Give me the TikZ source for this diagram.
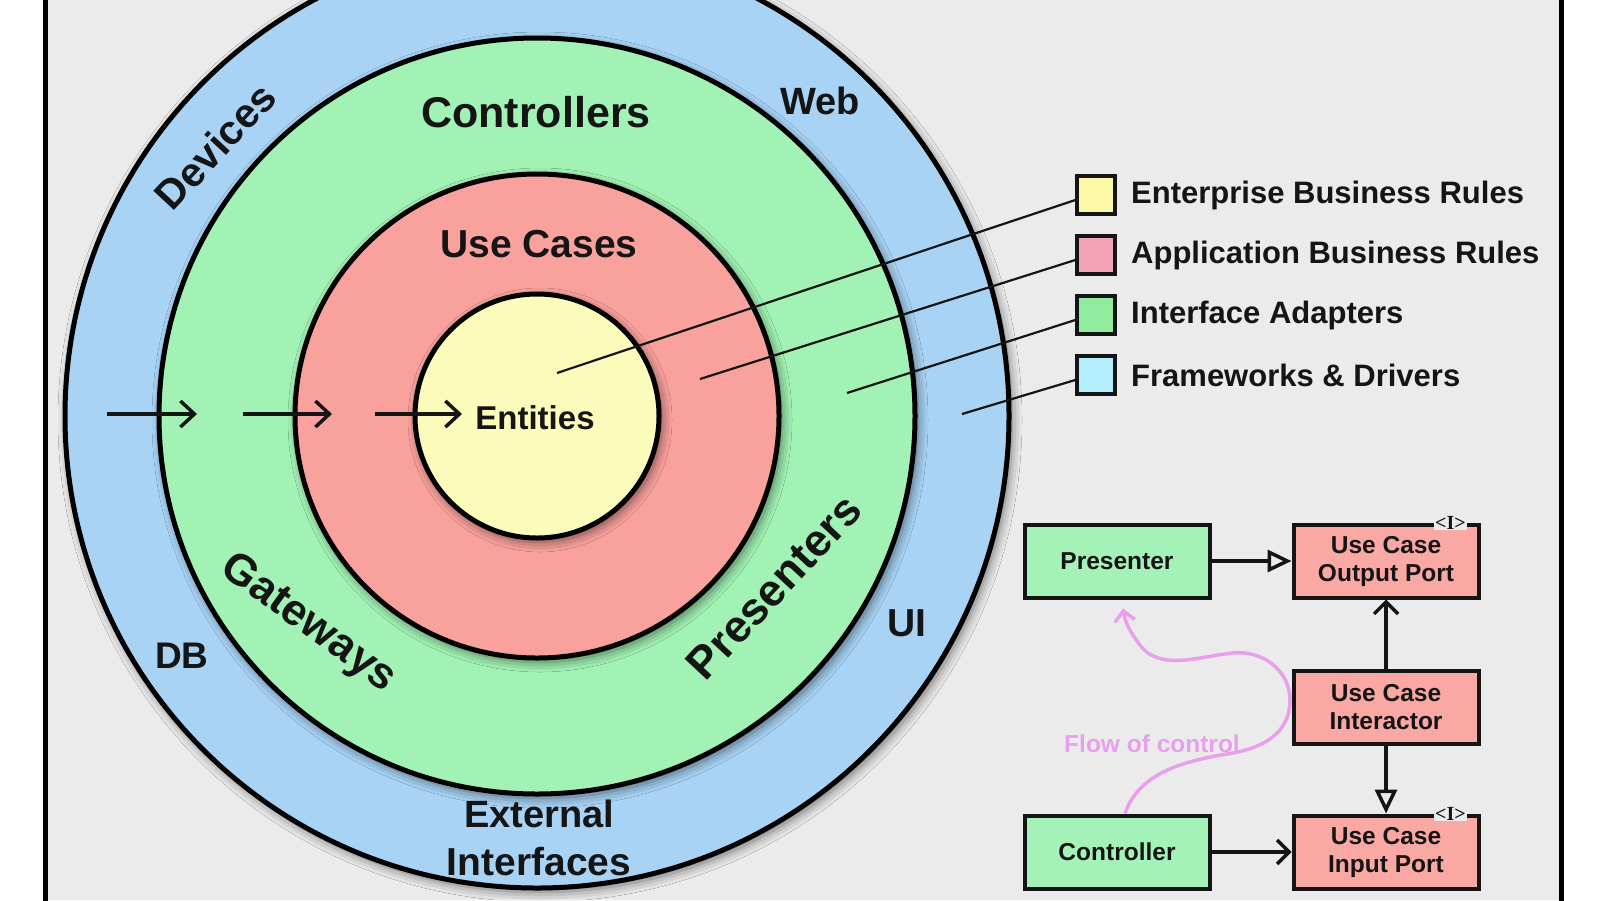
\documentclass[tikz,border=0pt]{standalone}
\usepackage{fontspec}
\setmainfont{Liberation Sans}
\newfontfamily\serifbf{Liberation Serif}
\usetikzlibrary{arrows.meta,shadows.blur,calc}
\definecolor{bggray}{HTML}{EBEBEB}
\definecolor{ringblue}{HTML}{A9D3F5}
\definecolor{ringgreen}{HTML}{A2F2B5}
\definecolor{ringred}{HTML}{F9A19C}
\definecolor{ringyellow}{HTML}{FBFBBC}
\definecolor{lgyellow}{HTML}{FBF9A8}
\definecolor{lgpink}{HTML}{F4A3B7}
\definecolor{lggreen}{HTML}{8FEC9E}
\definecolor{lgcyan}{HTML}{B2EEFB}
\definecolor{boxgreen}{HTML}{A5F2B9}
\definecolor{boxred}{HTML}{F9A8A4}
\definecolor{flowpink}{HTML}{E8A0EC}
\definecolor{ink}{HTML}{151515}
\newcommand{\fsz}[2]{\fontsize{#1}{#2}\selectfont\bfseries}
\begin{document}
\begin{tikzpicture}[x=1pt,y=-1pt,
  ring/.style={draw=black, line width=5pt},
  ringshadow/.style={blur shadow={shadow xshift=3pt, shadow yshift=-4pt, shadow blur radius=10pt, shadow opacity=55}},
  lbl/.style={text=ink, inner sep=0pt},
  lgbox/.style={draw=ink, line width=3.5pt, minimum width=38pt, minimum height=38pt, inner sep=0pt},
  lgtext/.style={text=ink, anchor=west, inner sep=0pt, font=\fsz{31}{34}},
  leader/.style={draw=ink, line width=2.2pt},
  inarrow/.style={draw=ink, line width=3.5pt, -{Straight Barb[length=14pt, width=26pt]}},
  umlbox/.style={draw=ink, line width=4pt, minimum width=185pt, minimum height=73pt, inner sep=0pt, align=center, text=ink, font=\fsz{24.5}{28}},
  barb/.style={draw=ink, line width=3.5pt, -{Straight Barb[length=12pt, width=24pt]}},
  tri/.style={draw=ink, line width=3.5pt, -{Triangle[open, length=24pt, width=22pt, line width=3.5pt]}},
  imark/.style={fill=bggray, inner sep=1pt, text=ink, font=\serifbf\fontsize{20}{20}\selectfont\bfseries}
]
\useasboundingbox (0,0) rectangle (1600,900);
\fill[white] (0,0) rectangle (1600,900);
\fill[bggray] (45,0) rectangle (1561,900);
\draw[line width=5pt, black] (45,-10) -- (45,910);
\draw[line width=5pt, black] (1561,-10) -- (1561,910);

% concentric rings
\coordinate (c) at (537,416);
\path[fill=ringblue, ringshadow] (c) circle[radius=472pt];
\draw[ring] (c) circle[radius=472pt];
\path[fill=ringgreen, ringshadow] (c) circle[radius=378pt];
\draw[ring] (c) circle[radius=378pt];
\path[fill=ringred, ringshadow] (c) circle[radius=242pt];
\draw[ring] (c) circle[radius=242pt];
\path[fill=ringyellow, ringshadow] (c) circle[radius=122pt];
\draw[ring] (c) circle[radius=122pt];

% ring labels
\node[lbl, font=\fsz{43}{48}] (controllers) at (536,112) {Controllers};
\node[lbl, font=\fsz{39}{44}] (usecases) at (539,244) {Use Cases};
\node[lbl, font=\fsz{33}{38}] (entities) at (535,418) {Entities};
\node[lbl, font=\fsz{38}{42}] (web) at (820,101) {Web};
\node[lbl, font=\fsz{39}{42}] (ui) at (907,623) {UI};
\node[lbl, font=\fsz{37}{42}] (db) at (182,656) {DB};
\node[lbl, font=\fsz{38}{42}] (external) at (539,814) {External};
\node[lbl, font=\fsz{39}{42}] (interfaces) at (539,862) {Interfaces};
\node[lbl, font=\fsz{41}{44}, rotate=47] (devices) at (215,146) {Devices};
\node[lbl, font=\fsz{44}{48}, rotate=-36] (gateways) at (308,624) {Gateways};
\node[lbl, font=\fsz{45}{48}, rotate=47] (presenters) at (774,587) {Presenters};

% inward arrows
\coordinate (a1s) at (107,414); \coordinate (a1e) at (197,414);
\coordinate (a2s) at (243,414); \coordinate (a2e) at (332,414);
\coordinate (a3s) at (375,414); \coordinate (a3e) at (462,414);
\draw[inarrow] (a1s) -- (a1e);
\draw[inarrow] (a2s) -- (a2e);
\draw[inarrow] (a3s) -- (a3e);

% legend
\node[lgbox, fill=lgyellow] (lg1) at (1096,195) {};
\node[lgbox, fill=lgpink]   (lg2) at (1096,255) {};
\node[lgbox, fill=lggreen]  (lg3) at (1096,315) {};
\node[lgbox, fill=lgcyan]   (lg4) at (1096,375) {};
\node[lgtext] (lt1) at (1131,195) {Enterprise Business Rules};
\node[lgtext] (lt2) at (1131,255) {Application Business Rules};
\node[lgtext] (lt3) at (1131,315) {Interface Adapters};
\node[lgtext] (lt4) at (1131,375) {Frameworks \& Drivers};
\coordinate (p1) at (557,373);
\coordinate (p2) at (700,379);
\coordinate (p3) at (847,393);
\coordinate (p4) at (962,414);
\draw[leader] (p1) -- ([yshift=-5pt]lg1.west);
\draw[leader] (p2) -- ([yshift=-5pt]lg2.west);
\draw[leader] (p3) -- ([yshift=-5pt]lg3.west);
\draw[leader] (p4) -- ([yshift=-5pt]lg4.west);

% flow diagram
\node[umlbox, fill=boxgreen] (pres) at (1117,561) {Presenter};
\node[umlbox, fill=boxred]   (outp) at (1386,561) {Use Case\\Output Port};
\node[umlbox, fill=boxred]   (inter) at (1386,707) {Use Case\\Interactor};
\node[umlbox, fill=boxgreen] (ctrl) at (1117,852) {Controller};
\node[umlbox, fill=boxred]   (inp) at (1386,852) {Use Case\\Input Port};
\node[imark] (i1) at ([xshift=-30pt]outp.north east) {<I>};
\node[imark] (i2) at ([xshift=-30pt]inp.north east) {<I>};

\draw[tri] (pres.east) -- (outp.west);
\draw[barb] (inter.north) -- (outp.south);
\draw[tri] (inter.south) -- (inp.north);
\draw[barb] (ctrl.east) -- (inp.west);

% flow of control
\coordinate (fs) at ([xshift=8pt]ctrl.north);
\coordinate (fe) at ([xshift=6pt, yshift=-9pt]pres.south);
\draw[flowpink, line width=3.5pt, -{Straight Barb[length=10pt, width=20pt]}]
  (fs) .. controls (1140,770) and (1190,760) .. (1233,753)
       .. controls (1275,745) and (1290,725) .. (1290,700)
       .. controls (1290,670) and (1262,650) .. (1233,653)
       .. controls (1200,656) and (1160,672) .. (1140,645)
       .. controls (1130,632) and (1125,622) .. (fe);
\node[text=flowpink, inner sep=0pt, font=\fsz{24.5}{28}] (flow) at (1152,744) {Flow of control};
\end{tikzpicture}
\end{document}
